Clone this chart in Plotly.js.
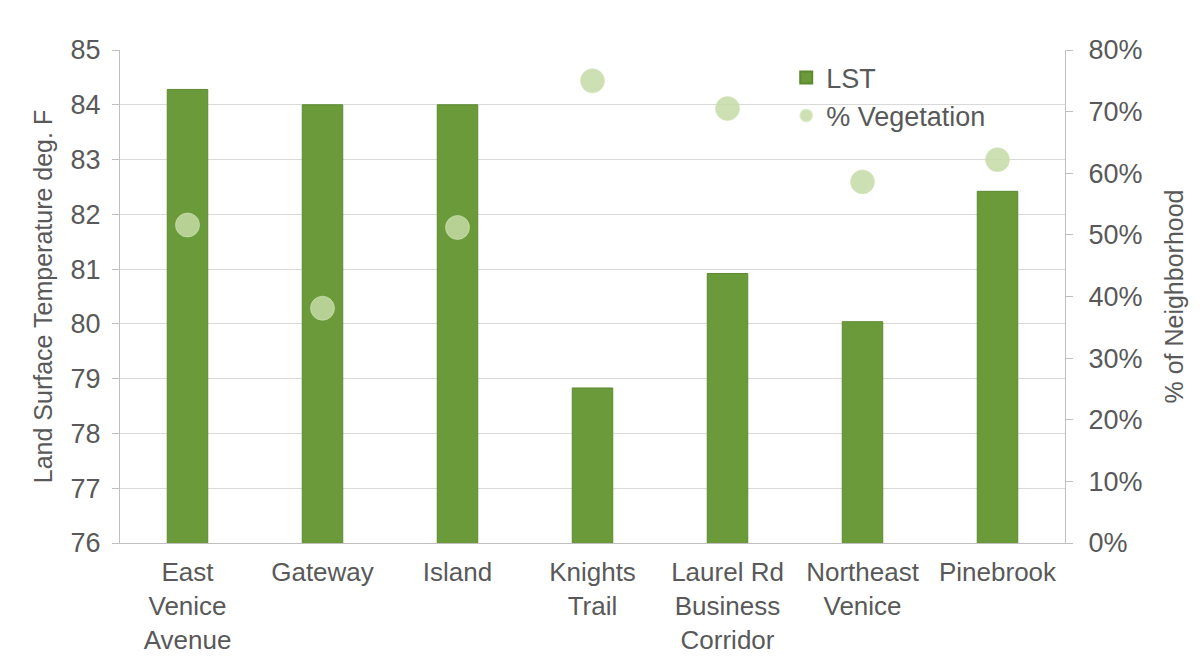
<!DOCTYPE html>
<html>
<head>
<meta charset="utf-8">
<script src="https://cdn.plot.ly/plotly-3.0.1.min.js"></script>
<style>html,body{margin:0;padding:0;background:#fff;}#chart{width:1201px;height:667px;}</style>
</head>
<body>
<div id="chart"></div>
<script>
const categories = ["East Venice Avenue", "Gateway", "Island", "Knights Trail", "Laurel Rd Business Corridor", "Northeast Venice", "Pinebrook"];
const tickLabels = ["East<br>Venice<br>Avenue", "Gateway", "Island", "Knights<br>Trail", "Laurel Rd<br>Business<br>Corridor", "Northeast<br>Venice", "Pinebrook"];
const lst = [84.28, 84.0, 84.0, 78.83, 80.92, 80.04, 82.42];
const vegetation = [0.516, 0.381, 0.512, 0.75, 0.705, 0.586, 0.622];
const leftTicks = [76, 77, 78, 79, 80, 81, 82, 83, 84, 85];
const rightTicks = [0, 0.1, 0.2, 0.3, 0.4, 0.5, 0.6, 0.7, 0.8];

const textColor = "#595959";
const fontFamily = "Liberation Sans, Arial, sans-serif";

const traces = [
  {
    type: "bar",
    name: "LST",
    x: categories,
    y: lst,
    base: 0,
    width: 0.3,
    marker: {color: "#6b9a3b", line: {color: "#5b8a2f", width: 1}},
    yaxis: "y"
  },
  {
    type: "scatter",
    mode: "markers",
    name: "% Vegetation",
    x: categories,
    y: vegetation,
    yaxis: "y2",
    marker: {size: 24, color: "rgba(196,218,166,0.85)", line: {color: "rgba(210,228,185,0.6)", width: 1}}
  }
];

const layout = {
  width: 1201,
  height: 667,
  paper_bgcolor: "#ffffff",
  plot_bgcolor: "#ffffff",
  margin: {l: 120, r: 136, t: 50, b: 124},
  font: {family: fontFamily, color: textColor, size: 27},
  showlegend: true,
  legend: {
    x: 0.705, y: 0.993, xanchor: "left", yanchor: "top",
    bgcolor: "rgba(0,0,0,0)",
    font: {size: 27, color: textColor},
    tracegroupgap: 0,
    itemsizing: "constant",
    itemwidth: 30
  },
  xaxis: {
    type: "category",
    tickmode: "array",
    tickvals: categories,
    ticktext: tickLabels,
    showgrid: false,
    showline: true,
    linecolor: "#bfbfbf",
    linewidth: 1,
    ticks: "",
    ticklabelstandoff: 6,
    tickfont: {size: 26, color: textColor},
    automargin: false
  },
  yaxis: {
    range: [76, 85],
    tickmode: "array",
    tickvals: leftTicks,
    ticktext: leftTicks.map(String),
    showgrid: true,
    gridcolor: "#d9d9d9",
    gridwidth: 1,
    zeroline: false,
    showline: true,
    linecolor: "#bfbfbf",
    ticks: "outside",
    ticklen: 7,
    tickcolor: "#bfbfbf",
    ticklabelstandoff: 6,
    tickfont: {size: 27, color: textColor},
    automargin: false,
    title: {text: "Land Surface Temperature deg. F", font: {size: 25, color: textColor}, standoff: 10}
  },
  yaxis2: {
    overlaying: "y",
    side: "right",
    range: [0, 0.8],
    tickmode: "array",
    tickvals: rightTicks,
    tickformat: ".0%",
    showgrid: false,
    zeroline: false,
    showline: true,
    linecolor: "#bfbfbf",
    ticks: "outside",
    ticklen: 7,
    tickcolor: "#bfbfbf",
    ticklabelstandoff: 10,
    tickfont: {size: 27, color: textColor},
    automargin: false,
    title: {text: "% of Neighborhood", font: {size: 25, color: textColor}, standoff: 24}
  }
};

Plotly.newPlot("chart", traces, layout, {displayModeBar: false, staticPlot: true});
</script>
</body>
</html>
